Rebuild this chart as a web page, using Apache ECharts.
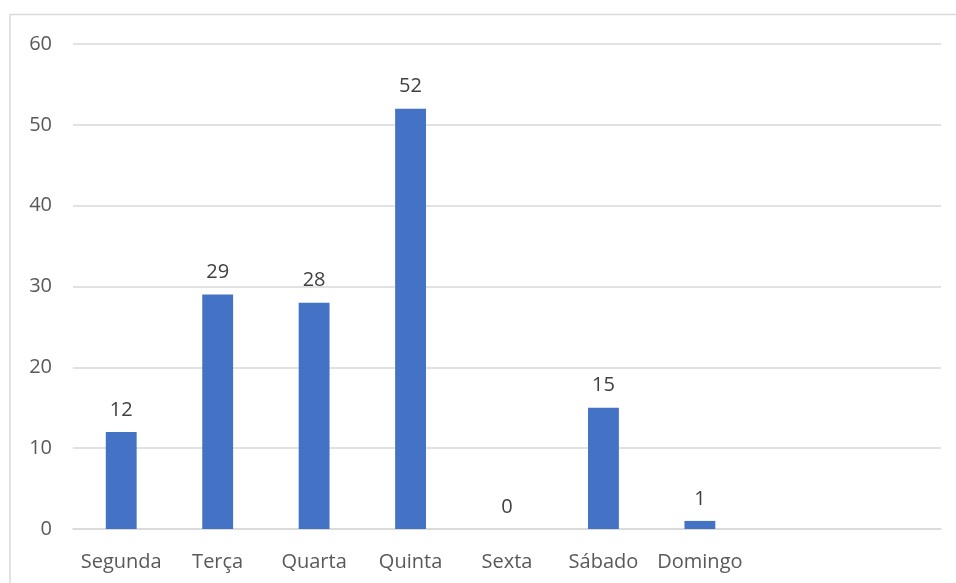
<!DOCTYPE html>
<html>
<head>
<meta charset="utf-8">
<style>
  html, body { margin: 0; padding: 0; background: #ffffff; }
  #chart { width: 956px; height: 583px; }
</style>
<script src="https://cdn.jsdelivr.net/npm/echarts@6/dist/echarts.min.js"></script>
</head>
<body>
<div id="chart"></div>
<script>
// Days of the week (two trailing empty slots keep the plot width)
const categories = ['Segunda', 'Terça', 'Quarta', 'Quinta', 'Sexta', 'Sábado', 'Domingo', '', ''];
const counts = [12, 29, 28, 52, 0, 15, 1, null, null];
const yTicks = { min: 0, max: 60, step: 10 };

const FONT = '"Open Sans", "Noto Sans", sans-serif';

const chart = echarts.init(document.getElementById('chart'), null, { renderer: 'canvas' });

chart.setOption({
  animation: false,
  backgroundColor: '#ffffff',
  graphic: [{
    type: 'rect',
    shape: { x: 10, y: 14.5, width: 1000, height: 700 },
    style: { fill: 'none', stroke: '#d9d9d9', lineWidth: 1.5 },
    silent: true,
    z: -1
  }],
  grid: { left: 73, right: 15, top: 44, bottom: 54, containLabel: false },
  xAxis: {
    type: 'category',
    data: categories,
    axisLine: { show: true, lineStyle: { color: '#d9d9d9', width: 1.5 } },
    axisTick: { show: false },
    axisLabel: {
      color: '#595959',
      fontFamily: FONT,
      fontSize: 20,
      margin: 23,
      interval: 0
    },
    splitLine: { show: false }
  },
  yAxis: {
    type: 'value',
    min: yTicks.min,
    max: yTicks.max,
    interval: yTicks.step,
    axisLine: { show: false },
    axisTick: { show: false },
    axisLabel: {
      color: '#595959',
      fontFamily: FONT,
      fontSize: 20,
      margin: 21
    },
    splitLine: { lineStyle: { color: '#d9d9d9', width: 1.5 } }
  },
  series: [{
    type: 'bar',
    data: counts,
    barWidth: '32%',
    itemStyle: { color: '#4472C4' },
    label: {
      show: true,
      position: 'top',
      distance: 12,
      color: '#404040',
      fontFamily: FONT,
      fontSize: 20,
      formatter: p => (p.value === null || p.value === undefined ? '' : String(p.value))
    }
  }]
});
</script>
</body>
</html>
